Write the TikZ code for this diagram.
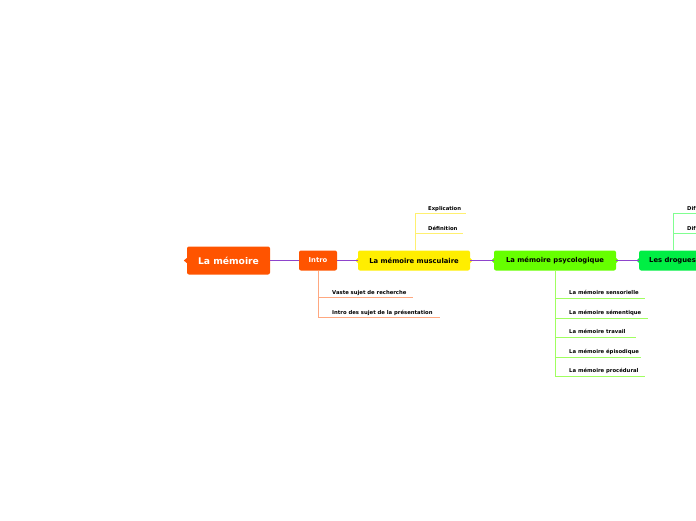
\documentclass[tikz,border=0pt]{standalone}
\usepackage{fontspec}
\setmainfont{DejaVu Sans}
\definecolor{corange}{HTML}{FF5400}
\definecolor{cyellow}{HTML}{FFEE00}
\definecolor{clime}{HTML}{66FF00}
\definecolor{cgreen}{HTML}{00EE44}
\definecolor{cpurple}{HTML}{8E44CC}
\definecolor{lorange}{HTML}{FFA880}
\definecolor{lyellow}{HTML}{FFF070}
\definecolor{llime}{HTML}{A0FF60}
\definecolor{lgreen}{HTML}{80FF90}
\tikzset{
  topic/.style={rounded corners=2pt, inner sep=0pt, font=\bfseries\fontsize{6.8}{7}\selectfont, minimum height=20pt, align=center},
  leaf/.style={anchor=base west, inner sep=0pt, font=\bfseries\fontsize{5.3}{6}\selectfont, text=black},
  link/.style={cpurple, line width=1.8pt},
  sub/.style={line width=0.9pt},
}
\begin{document}
\begin{tikzpicture}[x=1pt,y=-1pt]
\useasboundingbox (0,0) rectangle (696,520);
\clip (0,0) rectangle (696,520);
% links first (behind boxes)
\coordinate (c1) at (228.5,260.5);
% main topics
\node[topic, fill=corange, text=white, minimum width=83pt, minimum height=28pt, font=\bfseries\fontsize{9.2}{10}\selectfont] (main) at (228.5,260.5) {La mémoire};
\fill[corange] (main.west) ++(0,-2.5) -- ++(-3,2.5) -- ++(3,2.5) -- cycle;
\node[topic, fill=corange, text=white, minimum width=38pt] (intro) at (318,260.5) {Intro};
\node[topic, fill=cyellow, minimum width=112pt] (musc) at (414,260.5) {La mémoire musculaire};
\node[topic, fill=clime, minimum width=122pt] (psy) at (555,260.5) {La mémoire psycologique};
\node[topic, fill=cgreen, minimum width=70pt, anchor=west, align=left, inner xsep=10pt] (drog) at (639,260.5) {Les drogues\hspace{20pt}};
% small knobs
\foreach \n/\c in {musc/cyellow, psy/clime, drog/cgreen}{
  \fill[\c] (\n.west) ++(0,-2.5) -- ++(-2.5,2.5) -- ++(2.5,2.5) -- cycle;
}
\foreach \n/\c in {musc/cyellow, psy/clime}{
  \fill[\c] (\n.east) ++(0,-2.5) -- ++(2.5,2.5) -- ++(-2.5,2.5) -- cycle;
}
% links
\draw[link] (main) -- (intro);
\draw[link] (intro) -- (musc);
\draw[link] (musc) -- (psy);
\draw[link] (psy) -- (drog);

% Intro children
\coordinate (ia) at (318,297); \coordinate (iae) at (413,297);
\coordinate (ib) at (318,317); \coordinate (ibe) at (440,317);
\node[leaf] (it1) at (332,294) {Vaste sujet de recherche};
\node[leaf] (it2) at (332,314) {Intro des sujet de la présentation};
\draw[lorange, sub] (intro.south) -- (ib);
\draw[lorange, sub] (ia) -- (iae);
\draw[lorange, sub] (ib) -- (ibe);

% Musculaire children
\coordinate (ma) at (415,213); \coordinate (mae) at (466,213);
\coordinate (mb) at (415,233); \coordinate (mbe) at (463,233);
\node[leaf] (mt1) at (428,210) {Explication};
\node[leaf] (mt2) at (428,230) {Définition};
\draw[lyellow, sub] (musc.north -| ma) -- (ma);
\draw[lyellow, sub] (ma) -- (mae);
\draw[lyellow, sub] (mb) -- (mbe);

% Psycologique children
\coordinate (pa) at (555,298); \coordinate (pae) at (645,298);
\coordinate (pb) at (555,318); \coordinate (pbe) at (648,318);
\coordinate (pc) at (555,337); \coordinate (pce) at (636,337);
\coordinate (pd) at (555,357); \coordinate (pde) at (641,357);
\coordinate (pe) at (555,376); \coordinate (pee) at (645,376);
\node[leaf] (pt1) at (569,294.5) {La mémoire sensorielle};
\node[leaf] (pt2) at (569,314.5) {La mémoire sémentique};
\node[leaf] (pt3) at (569,333.5) {La mémoire travail};
\node[leaf] (pt4) at (569,353.5) {La mémoire épisodique};
\node[leaf] (pt5) at (569,372.5) {La mémoire procédural};
\draw[llime, sub] (psy.south) -- (pe);
\foreach \a/\b in {pa/pae, pb/pbe, pc/pce, pd/pde, pe/pee}{
  \draw[llime, sub] (\a) -- (\b);
}

% Drogues children
\coordinate (da) at (673,213); \coordinate (dae) at (720,213);
\coordinate (db) at (673,233); \coordinate (dbe) at (720,233);
\node[leaf] (dt1) at (687,210) {Dif};
\node[leaf] (dt2) at (687,230) {Dif};
\draw[lgreen, sub] (drog.north -| da) -- (da);
\draw[lgreen, sub] (da) -- (dae);
\draw[lgreen, sub] (db) -- (dbe);
\end{tikzpicture}
\end{document}
